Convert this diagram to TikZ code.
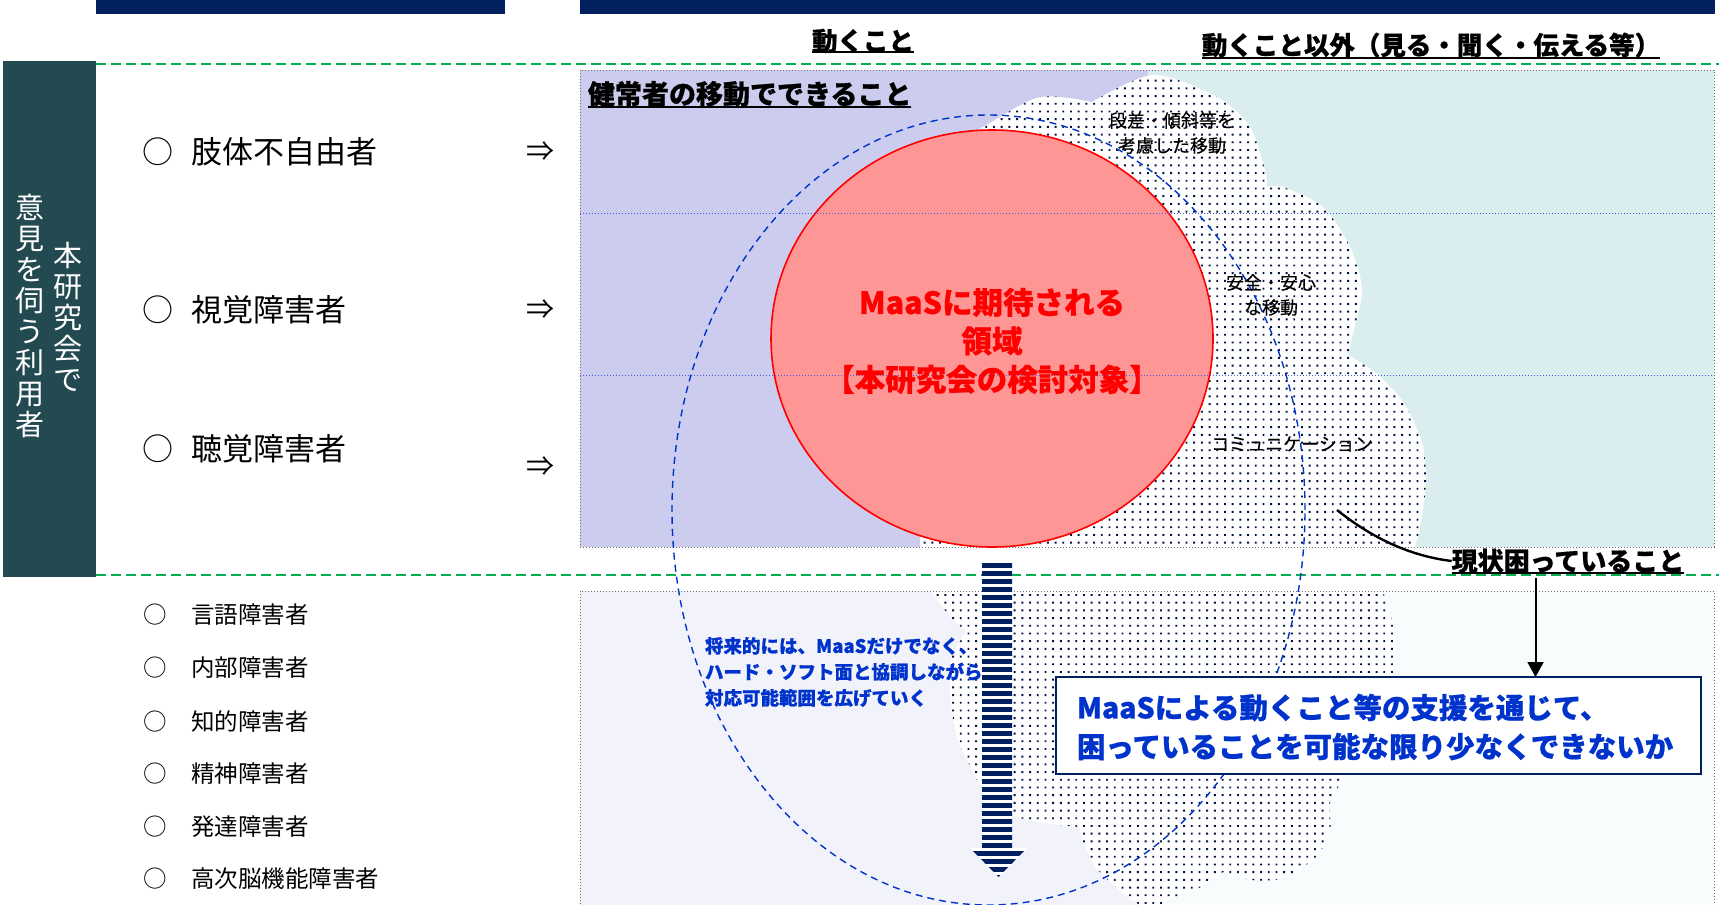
\documentclass[tikz,border=0pt]{standalone}
\usepackage{fontspec}
\setmainfont{Noto Sans CJK JP}
\usetikzlibrary{arrows.meta}
\definecolor{navy}{RGB}{0,32,96}
\definecolor{dotc}{RGB}{0,20,70}
\definecolor{teal2}{RGB}{35,74,80}
\definecolor{dgreen}{RGB}{0,176,80}
\definecolor{lav}{RGB}{204,204,238}
\definecolor{cyn}{RGB}{218,238,240}
\definecolor{lavl}{RGB}{242,242,251}
\definecolor{cynl}{RGB}{249,252,252}
\definecolor{pinkf}{RGB}{255,150,150}
\definecolor{tblue}{RGB}{0,51,204}
\definecolor{lblue}{RGB}{70,90,230}
\definecolor{bgray}{RGB}{110,110,110}
\newcommand{\hvy}{\bfseries\addfontfeature{FakeBold=0.7}}
\begin{document}
\begin{tikzpicture}[x=1pt,y=-1pt,
  T/.style={inner sep=0pt, outer sep=0pt},
  hd/.style={T, font=\fontsize{25.5}{30}\selectfont\hvy},
  bigtxt/.style={T, font=\fontsize{31}{36}\selectfont},
  smltxt/.style={T, font=\fontsize{23.5}{28}\selectfont},
  vt/.style={T, font=\fontsize{29}{31}\selectfont, text=white, align=center},
  cltxt/.style={T, font=\fontsize{18}{25}\selectfont\addfontfeature{FakeBold=0.3}, align=center},
  uline/.style={line width=2pt},
  gdash/.style={dgreen, line width=2pt, dash pattern=on 9.5pt off 5.5pt},
  boxdot/.style={bgray, line width=1pt, dotted},
  bdot/.style={lblue, line width=1pt, dotted}
]
\useasboundingbox (0,0) rectangle (1719,905);

% top bars
\fill[navy] (96,0) rectangle (505,14);
\fill[navy] (580,0) rectangle (1715,14);

% teal side box
\fill[teal2] (3,61) rectangle (96,577);
\node[vt] (vtA) at (68,317) {本\\研\\究\\会\\で};
\node[vt] (vtB) at (30,316) {意\\見\\を\\伺\\う\\利\\用\\者};

% content box fills
\fill[lav] (580,70) rectangle (1148,547);
\fill[cyn] (1148,70) rectangle (1714,547);
\fill[lavl] (580,591) rectangle (1148,910);
\fill[cynl] (1148,591) rectangle (1714,910);

% upper cloud
\begin{scope}
\clip (580,70) rectangle (1714,547);
\fill[white] (920,560) -- (920,420) -- (960,140)
  -- plot[smooth] coordinates {(990,123) (1040,97) (1092,102)}
  -- plot[smooth] coordinates {(1092,102) (1153,75) (1217,97) (1250,127) (1265,170) (1267,187)}
  -- plot[smooth] coordinates {(1267,187) (1283,187) (1323,207) (1350,247) (1362,290) (1353,333) (1348,355)}
  -- plot[smooth] coordinates {(1348,355) (1376,373) (1404,403) (1422,443) (1426,483) (1420,527) (1412,560)}
  -- cycle;
\clip (920,560) -- (920,420) -- (960,140)
  -- plot[smooth] coordinates {(990,123) (1040,97) (1092,102)}
  -- plot[smooth] coordinates {(1092,102) (1153,75) (1217,97) (1250,127) (1265,170) (1267,187)}
  -- plot[smooth] coordinates {(1267,187) (1283,187) (1323,207) (1350,247) (1362,290) (1353,333) (1348,355)}
  -- plot[smooth] coordinates {(1348,355) (1376,373) (1404,403) (1422,443) (1426,483) (1420,527) (1412,560)}
  -- cycle;
\foreach \j in {0,...,62}
  \fill[dotc] \foreach \i in {0,...,67} {({916+7.7*\i},{72+7.7*\j}) rectangle ++(1.9,1.9)};
\end{scope}

% lower cloud
\begin{scope}
\clip (580,591) rectangle (1714,910);
\fill[white] (931,580)
  -- plot[smooth] coordinates {(931,591) (948,614) (966,632)}
  -- plot[smooth] coordinates {(966,632) (951,660) (951,703) (958,740) (977,780)}
  -- (995,805)
  -- plot[smooth] coordinates {(1016,817) (1043,823) (1079,827)}
  -- plot[smooth] coordinates {(1079,827) (1085,847) (1098,870) (1123,893) (1150,912)}
  -- (1162,912)
  -- plot[smooth] coordinates {(1166,900) (1201,887) (1223,872)}
  -- plot[smooth] coordinates {(1223,872) (1251,880) (1283,878) (1316,857) (1330,830) (1330,803) (1344,778)}
  -- plot[smooth] coordinates {(1344,778) (1380,725) (1394,670) (1394,630) (1383,591) (1383,580)}
  -- cycle;
\clip (931,580)
  -- plot[smooth] coordinates {(931,591) (948,614) (966,632)}
  -- plot[smooth] coordinates {(966,632) (951,660) (951,703) (958,740) (977,780)}
  -- (995,805)
  -- plot[smooth] coordinates {(1016,817) (1043,823) (1079,827)}
  -- plot[smooth] coordinates {(1079,827) (1085,847) (1098,870) (1123,893) (1150,912)}
  -- (1162,912)
  -- plot[smooth] coordinates {(1166,900) (1201,887) (1223,872)}
  -- plot[smooth] coordinates {(1223,872) (1251,880) (1283,878) (1316,857) (1330,830) (1330,803) (1344,778)}
  -- plot[smooth] coordinates {(1344,778) (1380,725) (1394,670) (1394,630) (1383,591) (1383,580)}
  -- cycle;
\foreach \j in {0,...,41}
  \fill[dotc] \foreach \i in {0,...,61} {({929+7.7*\i},{594+7.7*\j}) rectangle ++(1.9,1.9)};
\end{scope}

% box borders
\draw[boxdot] (580,70) rectangle (1714,547);
\draw[boxdot] (580,910) -- (580,591) -- (1714,591) -- (1714,910);

% green dashed separators
\draw[gdash] (96,64) -- (1719,64);
\draw[gdash] (96,575) -- (1719,575);

% red circle
\draw[red, line width=1.6pt, fill=pinkf] (992,338.5) ellipse [x radius=221pt, y radius=208.5pt];

% blue dotted rows
\draw[bdot] (580,213) -- (1714,213);
\draw[bdot] (580,375) -- (1714,375);

\node[T, align=center, text=red, font=\fontsize{30.5}{38.5}\selectfont\hvy] (maastxt) at (992,341) {MaaSに期待される\\領域\\【本研究会の検討対象】};

% blue dashed ellipse
\draw[tblue, line width=1.4pt, dash pattern=on 7pt off 5pt] (988.5,510) ellipse [x radius=316.5pt, y radius=395pt];

% striped arrow
\begin{scope}
\clip (982,563) -- (1012,563) -- (1012,848) -- (1027,848) -- (998.5,877) -- (970,848) -- (982,848) -- cycle;
\fill[white] (960,560) rectangle (1040,880);
\foreach \i in {0,...,39} \fill[navy] (960,{563+8*\i}) rectangle (1040,{567.5+8*\i});
\end{scope}

% column headings
\node[hd] (h1) at (863,41) {動くこと};
\draw[uline] ([yshift=1pt]h1.south west) -- ([yshift=1pt]h1.south east);
\node[hd] (h2) at (1431,45) {動くこと以外（見る・聞く・伝える等）};
\draw[uline] ([yshift=-1pt]h2.south west) -- ([yshift=-1pt]h2.south east);
\node[T, anchor=west, font=\fontsize{27}{30}\selectfont\hvy] (h3) at (588,94) {健常者の移動でできること};
\draw[uline] (h3.south west) -- (h3.south east);

% left list
\node[bigtxt] (c1) at (158,152) {○};
\node[bigtxt, anchor=west] (l1) at (191,152) {肢体不自由者};
\node[bigtxt] (c2) at (158,310) {○};
\node[bigtxt, anchor=west] (l2) at (191,310) {視覚障害者};
\node[bigtxt] (c3) at (158,449) {○};
\node[bigtxt, anchor=west] (l3) at (191,449) {聴覚障害者};
\node[T, font=\fontsize{28}{30}\selectfont] (a1) at (540,152) {⇒};
\node[T, font=\fontsize{28}{30}\selectfont] (a2) at (540,310) {⇒};
\node[T, font=\fontsize{28}{30}\selectfont] (a3) at (540,467) {⇒};

\foreach \yy/\tx [count=\k] in {615/言語障害者, 668/内部障害者, 722/知的障害者, 774/精神障害者, 827/発達障害者, 879/高次脳機能障害者}{
  \node[smltxt] (sc\k) at (155,\yy) {○};
  \node[smltxt, anchor=west] (sl\k) at (191,\yy) {\tx};
}

% cloud labels
\node[cltxt] (cl1) at (1172,133) {段差・傾斜等を\\考慮した移動};
\node[cltxt] (cl2) at (1271,295) {安全・安心\\な移動};
\node[cltxt] (cl3) at (1292,444) {コミュニケーション};

% future text
\node[T, anchor=west, align=left, text=tblue, font=\fontsize{18.5}{26}\selectfont\hvy] (fut) at (705,672) {将来的には、MaaSだけでなく、\\ハード・ソフト面と協調しながら\\対応可能範囲を広げていく};

% current problems
\node[T, font=\fontsize{26}{30}\selectfont\hvy] (gen) at (1568,561) {現状困っていること};
\draw[uline] (gen.south west) -- (gen.south east);
\coordinate (cs) at (1337,510);
\draw[line width=2.4pt] (cs) .. controls (1372,538) and (1410,556) .. (gen.west);

% goal box
\node[T, draw=navy, line width=2pt, fill=white, minimum width=645pt, minimum height=97pt] (goal) at (1378.75,725.5) {};
\node[T, anchor=west, align=left, text=tblue, font=\fontsize{28.5}{39}\selectfont\hvy] (goaltxt) at (1077,727) {MaaSによる動くこと等の支援を通じて、\\困っていることを可能な限り少なくできないか};
\coordinate (ga) at (1535.5,578);
\draw[line width=2pt, -{Triangle[length=15pt,width=16pt]}] (ga) -- (ga |- goal.north);
\end{tikzpicture}
\end{document}
